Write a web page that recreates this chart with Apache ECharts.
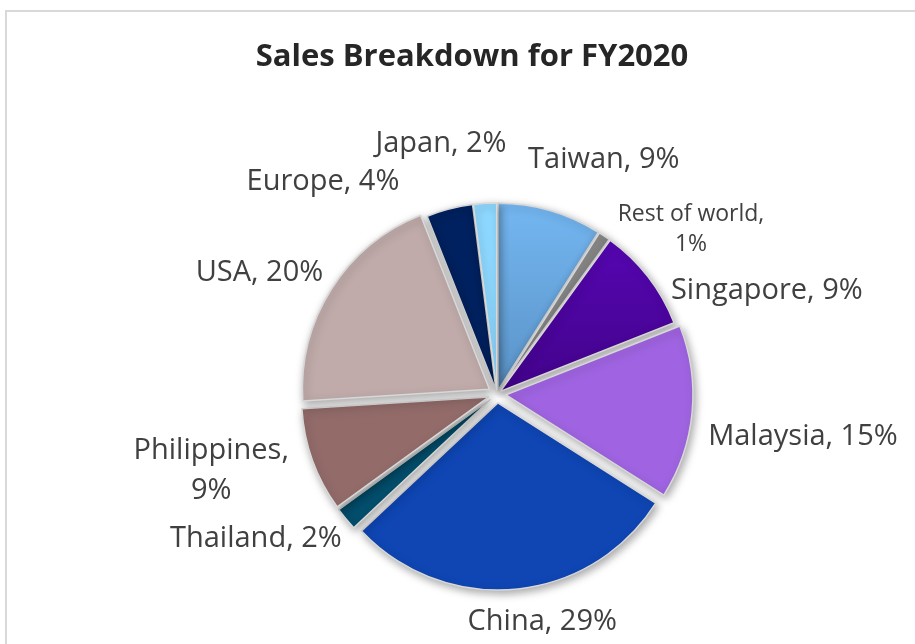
<!DOCTYPE html>
<html>
<head>
<meta charset="utf-8">
<script src="https://cdn.jsdelivr.net/npm/echarts@6/dist/echarts.min.js"></script>
<style>
  html, body { margin: 0; padding: 0; background: #fff; }
  .frame {
    position: absolute; left: 5px; top: 10px;
    width: 1000px; height: 1000px;
    border: 2px solid #d9d9d9; box-sizing: border-box;
  }
  #main { position: absolute; left: 0; top: 0; width: 915px; height: 644px; }
</style>
</head>
<body>
<div class="frame"></div>
<div id="main"></div>
<script>
// data, clockwise from 12 o'clock
const regions = ['Taiwan', 'Rest of world', 'Singapore', 'Malaysia', 'China',
                 'Thailand', 'Philippines', 'USA', 'Europe', 'Japan'];
const sharePct = [9, 1, 9, 15, 29, 2, 9, 20, 4, 2];
const chartTitle = 'Sales Breakdown for FY2020';

// styling
const sliceColors = {
  'Taiwan': new echarts.graphic.LinearGradient(0, 0, 0, 1, [
    { offset: 0, color: '#74b7f2' }, { offset: 1, color: '#5a92c6' }]),
  'Rest of world': '#898989',
  'Singapore': new echarts.graphic.LinearGradient(0, 0, 0, 1, [
    { offset: 0, color: '#5606b2' }, { offset: 1, color: '#42038a' }]),
  'Malaysia': '#a064e2',
  'China': '#0f46b4',
  'Thailand': '#034e6c',
  'Philippines': '#936c6a',
  'USA': '#c0abaa',
  'Europe': '#00215f',
  'Japan': '#8ed8ff'
};
// slices pulled out further than the rest
const pulledOut = ['Malaysia', 'China', 'Thailand', 'Philippines', 'USA'];
const wrapNames = ['Philippines', 'Rest of world'];
// label nudges from the plain "best fit" spot
const labelNudge = {
  'Taiwan': [40, -4], 'Rest of world': [45, 55], 'Singapore': [43, 73],
  'Malaysia': [12, 15], 'China': [24, 3], 'Thailand': [-27, -32],
  'Philippines': [-17, -20], 'USA': [-15, 20], 'Europe': [-115, 18],
  'Japan': [-42, -28]
};

const cx = 497, cy = 394, R = 187;
const fontFamily = 'Open Sans';
const total = sharePct.reduce((a, b) => a + b, 0);

// one pie per explode distance; slices of the other group are left empty
function pieData(wantPulled) {
  let out = [];
  for (let i = 0; i < regions.length; i++) {
    let mine = (pulledOut.indexOf(regions[i]) >= 0) === wantPulled;
    out.push({
      name: regions[i],
      value: sharePct[i],
      selected: mine,
      itemStyle: mine ? { color: sliceColors[regions[i]] }
                      : { color: 'rgba(0,0,0,0)', borderWidth: 0, shadowBlur: 0,
                          shadowColor: 'rgba(0,0,0,0)' }
    });
  }
  return out;
}

// data labels, placed just outside each slice
let measure = document.createElement('canvas').getContext('2d');
let labelEls = [];
let before = 0;
for (let i = 0; i < regions.length; i++) {
  let name = regions[i];
  let small = name === 'Rest of world';
  let fs = small ? 23 : 29;
  let lh = small ? 30 : 40;
  let sep = wrapNames.indexOf(name) >= 0 ? ',\n' : ', ';
  let text = name + sep + sharePct[i] + '%';
  measure.font = fs + 'px ' + fontFamily;
  let lines = text.split('\n');
  let w = Math.max.apply(null, lines.map(t => measure.measureText(t).width));
  let h = lines.length * lh;
  let mid = (before + sharePct[i] / 2) / total * 2 * Math.PI;
  before += sharePct[i];
  let ux = Math.sin(mid), uy = -Math.cos(mid);
  let d = R + 12 + w / 2 * Math.abs(ux) + h / 2 * Math.abs(uy);
  let n = labelNudge[name];
  labelEls.push({
    type: 'text',
    x: cx + d * ux + n[0],
    y: cy + d * uy + n[1],
    style: {
      text: text,
      fontFamily: fontFamily,
      fontSize: fs,
      lineHeight: lh,
      fill: '#404040',
      align: 'center',
      verticalAlign: 'middle'
    }
  });
}

let pieBase = {
  type: 'pie',
  center: [cx, cy],
  radius: [0, R],
  startAngle: 90,
  clockwise: true,
  selectedMode: 'multiple',
  itemStyle: {
    borderColor: '#d8d8d8',
    borderWidth: 1.5,
    shadowBlur: 8,
    shadowColor: 'rgba(0,0,0,0.35)',
    shadowOffsetX: 2,
    shadowOffsetY: 3
  },
  select: { itemStyle: { borderColor: '#d8d8d8', borderWidth: 1.5 } },
  emphasis: { disabled: true },
  label: { show: false },
  labelLine: { show: false }
};

let chart = echarts.init(document.getElementById('main'));
let option = {
  animation: false,
  title: {
    text: chartTitle,
    left: 467,
    top: 37,
    textAlign: 'center',
    textStyle: {
      fontFamily: fontFamily,
      fontWeight: 'bold',
      fontSize: 31,
      color: '#262626'
    }
  },
  graphic: labelEls,
  series: [
    Object.assign({}, pieBase, { name: 'near', selectedOffset: 4, data: pieData(false) }),
    Object.assign({}, pieBase, { name: 'far', selectedOffset: 9, data: pieData(true) })
  ]
};
chart.setOption(option);
window.addEventListener('resize', () => { chart.resize(); });
</script>
</body>
</html>
